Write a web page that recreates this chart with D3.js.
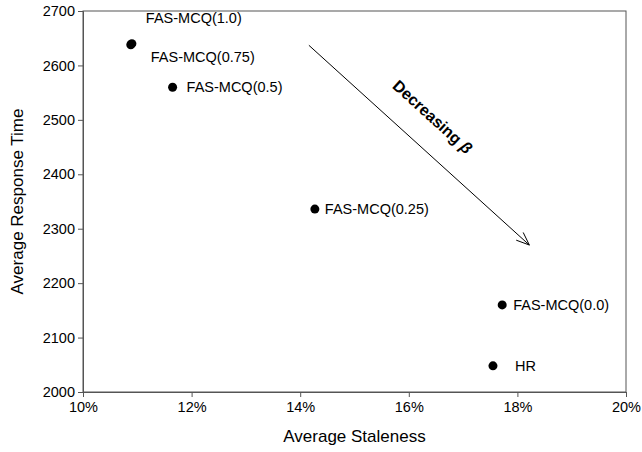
<!DOCTYPE html>
<html>
<head>
<meta charset="utf-8">
<script src="https://cdn.jsdelivr.net/npm/d3@7"></script>
<style>
  html, body { margin: 0; padding: 0; background: #fff; }
  svg { display: block; font-family: "Liberation Sans", Arial, sans-serif; }
</style>
</head>
<body>
<svg id="chart" width="642" height="452"></svg>
<script>
// Scheme labels and their measured staleness / response time
const labels = ["FAS-MCQ(1.0)", "FAS-MCQ(0.75)", "FAS-MCQ(0.5)", "FAS-MCQ(0.25)", "FAS-MCQ(0.0)", "HR"];
const staleness = [0.109, 0.1088, 0.1165, 0.1427, 0.1772, 0.1755];
const responseTime = [2640, 2638, 2560, 2336, 2160, 2048];

// Label offsets (px) relative to each point
const labelDx = [14, 20, 14, 10, 11, 22];
const labelDy = [-26, 12, 0, 0, 0, 0];

const xTicks = [0.10, 0.12, 0.14, 0.16, 0.18, 0.20];
const yTicks = [2000, 2100, 2200, 2300, 2400, 2500, 2600, 2700];

// Trend arrow, in data units
const arrowFrom = [0.1416, 2637];
const arrowTo = [0.1822, 2270];

const svg = d3.select("#chart");
const margin = { left: 83, right: 16, top: 11, bottom: 60 };
const W = 642, H = 452;
const FONT = "'Liberation Sans', Arial, sans-serif";

const x = d3.scaleLinear().domain([0.10, 0.20]).range([margin.left, W - margin.right]);
const y = d3.scaleLinear().domain([2000, 2700]).range([H - margin.bottom, margin.top]);

const axisColor = "#555";

// Frame
svg.append("rect")
  .attr("x", margin.left).attr("y", margin.top)
  .attr("width", x(0.20) - x(0.10)).attr("height", y(2000) - y(2700))
  .attr("fill", "none").attr("stroke", axisColor).attr("stroke-width", 1);

const xAxis = svg.append("g")
  .attr("transform", `translate(0,${y(2000)})`)
  .call(d3.axisBottom(x).tickValues(xTicks).tickFormat(d3.format(".0%")).tickSize(5).tickPadding(5));
const yAxis = svg.append("g")
  .attr("transform", `translate(${x(0.10)},0)`)
  .call(d3.axisLeft(y).tickValues(yTicks).tickFormat(d3.format("d")).tickSize(5).tickPadding(3));

[xAxis, yAxis].forEach(g => {
  g.attr("font-family", FONT).attr("font-size", 14.5);
  g.select(".domain").attr("stroke", axisColor);
  g.selectAll(".tick line").attr("stroke", axisColor);
  g.selectAll(".tick text").attr("fill", "#000");
});

// Axis titles
svg.append("text")
  .attr("x", (x(0.10) + x(0.20)) / 2).attr("y", 442)
  .attr("text-anchor", "middle").style("font-size", "17px")
  .text("Average Staleness");
svg.append("text")
  .attr("transform", `translate(23,${(y(2000) + y(2700)) / 2}) rotate(-90)`)
  .attr("text-anchor", "middle").style("font-size", "17px")
  .text("Average Response Time");

const points = labels.map((d, i) => ({ label: d, sx: staleness[i], ry: responseTime[i], i }));

// Points
svg.append("g").selectAll("circle")
  .data(points)
  .join("circle")
  .attr("cx", d => x(d.sx)).attr("cy", d => y(d.ry))
  .attr("r", 4.5).attr("fill", "#000");

// Point labels
svg.append("g").selectAll("text")
  .data(points)
  .join("text")
  .attr("x", d => x(d.sx) + labelDx[d.i])
  .attr("y", d => y(d.ry) + labelDy[d.i])
  .attr("dy", "0.35em")
  .style("font-size", "14.5px")
  .text(d => d.label);

// Arrow
const x1 = x(arrowFrom[0]), y1 = y(arrowFrom[1]);
const x2 = x(arrowTo[0]), y2 = y(arrowTo[1]);
const ang = Math.atan2(y2 - y1, x2 - x1);
svg.append("line")
  .attr("x1", x1).attr("y1", y1).attr("x2", x2).attr("y2", y2)
  .attr("stroke", "#000").attr("stroke-width", 1);
const head = 14, spread = 0.38;
svg.append("path")
  .attr("d", `M${x2 - head * Math.cos(ang - spread)},${y2 - head * Math.sin(ang - spread)}L${x2},${y2}L${x2 - head * Math.cos(ang + spread)},${y2 - head * Math.sin(ang + spread)}`)
  .attr("fill", "none").attr("stroke", "#000").attr("stroke-width", 1);

// Arrow caption
const deg = ang * 180 / Math.PI;
const off = 30;
const mx = x1 + (x2 - x1) * 0.47 + off * Math.sin(ang);
const my = y1 + (y2 - y1) * 0.47 - off * Math.cos(ang);
const cap = svg.append("text")
  .attr("transform", `translate(${mx},${my}) rotate(${deg})`)
  .attr("text-anchor", "middle").attr("dy", "0.35em")
  .style("font-size", "16px").style("font-weight", "bold");
cap.append("tspan").text("Decreasing ");
cap.append("tspan").style("font-style", "italic").text("β");
</script>
</body>
</html>
